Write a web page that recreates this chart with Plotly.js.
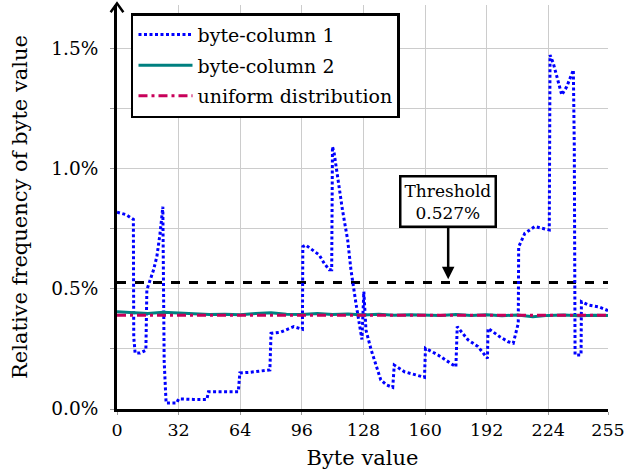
<!DOCTYPE html>
<html>
<head>
<meta charset="utf-8">
<script src="https://cdn.plot.ly/plotly-3.0.1.min.js"></script>
<style>html,body{margin:0;padding:0;background:#fff;}#chart{width:625px;height:475px;}</style>
</head>
<body>
<div id="chart"></div>
<script>
// Byte-column 1 (byte value, relative frequency in %)
const col1Bytes = [0,4.6,8.5,8.7,9.4,12,15,15.5,19,20.7,22.4,23.8,24.5,25.5,31,32,39.7,46.7,47.5,63,63.8,69.3,79.4,80,85,91.8,96.3,96.5,98,105,107.6,110.2,111.5,111.9,112.8,114.5,117.1,119.8,121.5,124.1,125.8,127.2,128.2,129.3,132,133.6,137,140,143.2,144,149.3,159.7,160.2,166.7,176,176.7,182.3,187.5,192.4,192.7,198.8,203.2,205.8,208.4,208.6,211.8,217,224.5,224.9,226.6,228.4,231,233.6,237,237.5,237.9,241,241.2,244.9,250,255];
const col1Freq = [0.82,0.81,0.79,0.30,0.233,0.233,0.245,0.496,0.58,0.635,0.733,0.843,0.2,0.025,0.025,0.042,0.04,0.04,0.072,0.072,0.15,0.153,0.163,0.315,0.32,0.343,0.332,0.676,0.683,0.642,0.607,0.58,0.58,1.093,1.065,0.968,0.829,0.704,0.58,0.44,0.357,0.29,0.489,0.329,0.246,0.204,0.121,0.10,0.09,0.183,0.155,0.132,0.253,0.225,0.176,0.343,0.288,0.26,0.211,0.336,0.301,0.28,0.274,0.357,0.676,0.732,0.76,0.746,1.475,1.44,1.385,1.308,1.343,1.4125,1.09,0.225,0.225,0.447,0.433,0.426,0.41];
// Byte-column 2
const col2Bytes = [0,8,16,24,32,40,48,56,64,72,80,88,96,104,112,120,128,136,144,152,160,168,176,184,192,200,208,216,224,232,240,248,255];
const col2Freq = [0.405,0.402,0.398,0.403,0.400,0.396,0.394,0.395,0.393,0.398,0.401,0.395,0.394,0.398,0.394,0.396,0.392,0.395,0.391,0.393,0.392,0.389,0.394,0.390,0.393,0.388,0.392,0.384,0.390,0.392,0.388,0.391,0.389];
// Uniform distribution and threshold
const uniformBytes = [0,255];
const uniformFreq = [100/256,100/256];
const thresholdValue = 0.527;
const thresholdBytes = [0,255];
const thresholdFreq = [thresholdValue,thresholdValue];
const thresholdArrowByte = 172;
// Axis ticks
const xTickVals = [0,32,64,96,128,160,192,224,255];
const yTickVals = [0,0.25,0.5,0.75,1.0,1.25,1.5];
const yTickText = ['0.0%','','0.5%','','1.0%','','1.5%'];

const FONT = 'DejaVu Serif';

const traces = [
  {x: thresholdBytes, y: thresholdFreq, mode:'lines', showlegend:false, hoverinfo:'skip',
   line:{color:'#000', width:3, dash:'dash'}},
  {x: col1Bytes, y: col1Freq, mode:'lines', name:'byte-column 1', legendgroup:'g1',
   line:{color:'#0000ff', width:3, dash:'3px,2.5px'}},
  {x: col2Bytes, y: col2Freq, mode:'lines', name:'byte-column 2', legendgroup:'g2',
   line:{color:'#008080', width:3}},
  {x: uniformBytes, y: uniformFreq, mode:'lines', name:'uniform distribution', legendgroup:'g3',
   line:{color:'#c8005a', width:3, dash:'9px,4px,3px,4px'}}
];

const layout = {
  width:625, height:475,
  margin:{l:117, r:17, t:5, b:66},
  paper_bgcolor:'#fff', plot_bgcolor:'#fff',
  font:{family:FONT, size:18, color:'#000'},
  showlegend:true,
  legend:{x:0.0285, y:0.98, xanchor:'left', yanchor:'top',
    bgcolor:'#fff', bordercolor:'#000', borderwidth:2.5,
    font:{family:FONT, size:19}, itemwidth:54, tracegroupgap:3},
  xaxis:{range:[0,255], tickvals:xTickVals, ticktext:xTickVals.map(String),
    showgrid:true, gridcolor:'#cccccc', gridwidth:1,
    showline:true, linecolor:'#000', linewidth:3, zeroline:false,
    ticks:'outside', ticklen:3, tickcolor:'#999',
    ticklabeloverflow:'allow',
    tickfont:{family:FONT, size:17.5},
    title:{text:'Byte value', font:{family:FONT, size:21}, standoff:12}},
  yaxis:{range:[0,1.683], tickvals:yTickVals, ticktext:yTickText,
    showgrid:true, gridcolor:'#cccccc', gridwidth:1,
    showline:true, linecolor:'#000', linewidth:3, zeroline:false,
    ticks:'outside', ticklen:4, tickcolor:'#999', ticklabelstandoff:8,
    tickfont:{family:FONT, size:18.5},
    title:{text:'Relative frequency of byte value', font:{family:FONT, size:21}, standoff:18}},
  shapes:[
    {type:'path', xref:'paper', yref:'paper', path:'M -0.013,0.982 L 0,1.004 L 0.013,0.982',
     line:{color:'#000', width:2.5}}
  ],
  annotations:[
    {x:thresholdArrowByte, y:0.54, xref:'x', yref:'y', text:'Threshold<br>0.527%',
     showarrow:true, ax:0, ay:-78, arrowhead:2, arrowsize:1, arrowwidth:2.5, arrowcolor:'#000',
     bgcolor:'#fff', bordercolor:'#000', borderwidth:2.5, borderpad:3,
     font:{family:FONT, size:17}}
  ]
};

Plotly.newPlot('chart', traces, layout, {displayModeBar:false, staticPlot:true});
</script>
</body>
</html>
